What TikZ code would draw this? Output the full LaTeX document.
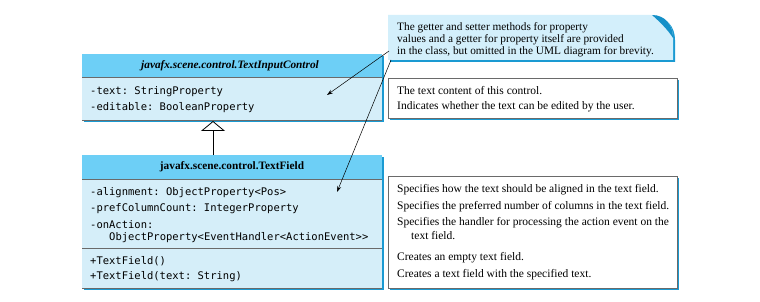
\documentclass[tikz,border=0pt]{standalone}
\usepackage{fontspec}
\setmainfont{Liberation Serif}
\setmonofont{DejaVu Sans Mono}
\usetikzlibrary{arrows.meta}
\definecolor{hdr}{HTML}{6DCFF6}
\definecolor{bodyc}{HTML}{D5EEF9}
\definecolor{shad}{HTML}{1A9AD2}
\definecolor{notec}{HTML}{D3EFFB}
\definecolor{curl}{HTML}{1590C8}
\definecolor{sep}{HTML}{6A6A6A}
\begin{document}
\begin{tikzpicture}[x=1pt,y=-1pt,
  mono/.style={anchor=west,inner sep=0pt,font=\fontsize{10.5}{12}\ttfamily},
  desc/.style={anchor=west,inner sep=0pt,font=\fontsize{11.5}{13}\selectfont},
  hdrtext/.style={inner sep=0pt,font=\fontsize{11.3}{13}\selectfont\bfseries},
  sepline/.style={draw=sep,line width=0.8pt},
  callout/.style={draw=black,line width=0.5pt,-{Stealth[length=6pt,width=4pt]}},
  descbox/.style={draw=sep,fill=white,line width=0.8pt}]
\useasboundingbox (0,0) rectangle (760,302);

% ---------- class TextInputControl ----------
\fill[shad] (84,56) rectangle (384,122);
\fill[bodyc] (82,54) rectangle (382,120);
\fill[hdr] (82,54) rectangle (382,77);
\draw[sepline] (82,77) -- (382,77);
\draw[sepline] (82,120) -- (382,120);
\node[hdrtext,font=\fontsize{11.3}{13}\selectfont\bfseries\itshape] (c1h) at (230,66) {javafx.scene.control.TextInputControl};
\node[mono] (c1a) at (90,92) {-text: StringProperty};
\node[mono] (c1b) at (90,108) {-editable: BooleanProperty};
\coordinate (c1bot) at (213,121);
\coordinate (c1txt) at (327,95);

% ---------- class TextField ----------
\fill[shad] (84,157) rectangle (384,290);
\fill[bodyc] (82,155) rectangle (382,288);
\fill[hdr] (82,155) rectangle (382,179);
\draw[sepline] (82,179) -- (382,179);
\draw[sepline] (82,248) -- (382,248);
\draw[sepline] (82,288) -- (382,288);
\node[hdrtext] (c2h) at (232,167) {javafx.scene.control.TextField};
\node[mono] (c2a) at (90,193) {-alignment: ObjectProperty<Pos>};
\node[mono] (c2b) at (90,209) {-prefColumnCount: IntegerProperty};
\node[mono] (c2c) at (90,225) {-onAction:};
\node[mono] (c2d) at (109,238) {ObjectProperty<EventHandler<ActionEvent>>};
\node[mono] (c2e) at (90,261) {+TextField()};
\node[mono] (c2f) at (90,277) {+TextField(text: String)};
\coordinate (c2top) at (213,155);
\coordinate (c2txt) at (337,192);

% inheritance
\draw[line width=0.8pt,-{Triangle[open,length=10pt,width=24pt,line width=0.8pt]}] (c2top) -- (c1bot);

% ---------- note ----------
\fill[shad] (390,17) -- (654,17) .. controls (667,17) and (675,27) .. (675,40) -- (675,62) -- (390,62) -- cycle;
\fill[notec] (388,15) -- (652,15) .. controls (665,15) and (673,25) .. (673,38) -- (673,60) -- (388,60) -- cycle;
\fill[curl] (652,15) .. controls (665,15) and (673,25) .. (673,38) .. controls (668,30) and (660,22) .. (652,15) -- cycle;
\node[desc,anchor=north west,align=left,font=\fontsize{11.3}{12.3}\selectfont] (note) at (397,22)
  {The getter and setter methods for property\\values and a getter for property itself are provided\\in the class, but omitted in the UML diagram for brevity.};
\coordinate (n1) at (389,51);
\coordinate (n2) at (391,60);
\draw[callout] (n1) -- (c1txt);
\draw[callout] (n2) -- (c2txt);

% ---------- description box A ----------
\fill[shad] (390,80) rectangle (679,120);
\draw[descbox] (388,78) rectangle (677,118);
\node[desc] (a1) at (397,91) {The text content of this control.};
\node[desc] (a2) at (397,107) {Indicates whether the text can be edited by the user.};

% ---------- description box B ----------
\fill[shad] (390,178) rectangle (679,290);
\draw[descbox] (388,176) rectangle (677,288);
\node[desc] (b1) at (397,190) {Specifies how the text should be aligned in the text field.};
\node[desc] (b2) at (397,207) {Specifies the preferred number of columns in the text field.};
\node[desc] (b3) at (397,223) {Specifies the handler for processing the action event on the};
\node[desc] (b4) at (411,236) {text field.};
\node[desc] (b5) at (397,258) {Creates an empty text field.};
\node[desc] (b6) at (397,275) {Creates a text field with the specified text.};
\end{tikzpicture}
\end{document}
